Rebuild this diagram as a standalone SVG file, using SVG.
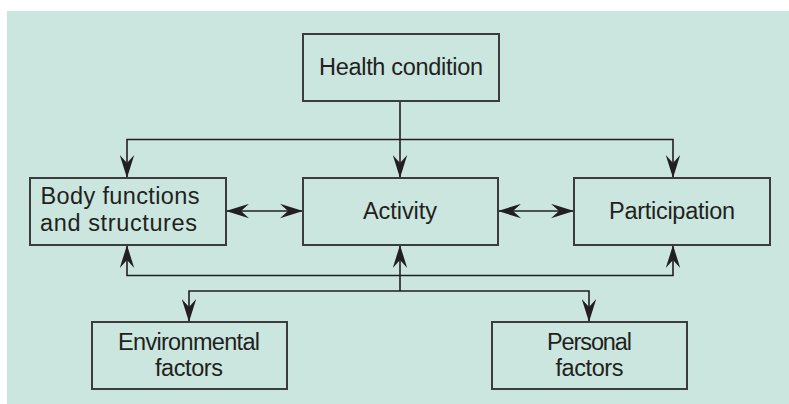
<svg xmlns="http://www.w3.org/2000/svg" width="789" height="404" viewBox="0 0 789 404">
  <style>
    .box { fill: none; stroke: #3c3c3c; stroke-width: 2; }
    .lbl { font-family: "Liberation Sans", Arial, sans-serif; font-size: 23.5px; fill: #231f20; text-anchor: middle; }
    .wire { fill: none; stroke: #231f20; stroke-width: 1.6; }
    .two { marker-start: url(#head); marker-end: url(#head); }
    .one { marker-end: url(#head); }
  </style>
  <defs>
    <marker id="head" viewBox="-23 -7.5 23 15" refX="0" refY="0" markerWidth="23" markerHeight="15" markerUnits="userSpaceOnUse" orient="auto-start-reverse">
      <path d="M0,0 L-23,-7.2 L-15,0 L-23,7.2 Z" fill="#231f20"/>
    </marker>
  </defs>

  <!-- panel background -->
  <rect x="7" y="11" width="782" height="393" fill="#cae6de"/>

  <g id="connectors">
    <path class="wire one" d="M400,101 V178"/>
    <path class="wire two" d="M127,178 V139.5 H673 V178"/>
    <path class="wire two" d="M226,211 H303"/>
    <path class="wire two" d="M498,211 H574"/>
    <path class="wire two" d="M127,245 V275.5 H673 V245"/>
    <path class="wire one" d="M400,291 V245"/>
    <path class="wire two" d="M189,322 V291 H589 V322"/>
  </g>

  <g id="health-condition">
    <rect class="box" x="303" y="34" width="196" height="67"/>
    <text class="lbl" x="401" y="75" textLength="164" lengthAdjust="spacing">Health condition</text>
  </g>

  <g id="body-functions">
    <rect class="box" x="30" y="178" width="196" height="67"/>
    <text class="lbl" x="120" y="204" textLength="159" lengthAdjust="spacing">Body functions</text>
    <text class="lbl" x="118.5" y="231" textLength="157" lengthAdjust="spacing">and structures</text>
  </g>

  <g id="activity">
    <rect class="box" x="303" y="178" width="195" height="67"/>
    <text class="lbl" x="400" y="219" textLength="74" lengthAdjust="spacing">Activity</text>
  </g>

  <g id="participation">
    <rect class="box" x="574" y="178" width="196" height="67"/>
    <text class="lbl" x="672" y="219" textLength="126" lengthAdjust="spacing">Participation</text>
  </g>

  <g id="environmental-factors">
    <rect class="box" x="92" y="322" width="195" height="67"/>
    <text class="lbl" x="189" y="350" textLength="142" lengthAdjust="spacing">Environmental</text>
    <text class="lbl" x="189" y="376" textLength="68" lengthAdjust="spacing">factors</text>
  </g>

  <g id="personal-factors">
    <rect class="box" x="492" y="322" width="195" height="67"/>
    <text class="lbl" x="589.5" y="350" textLength="85" lengthAdjust="spacing">Personal</text>
    <text class="lbl" x="589.5" y="376" textLength="68" lengthAdjust="spacing">factors</text>
  </g>
</svg>
